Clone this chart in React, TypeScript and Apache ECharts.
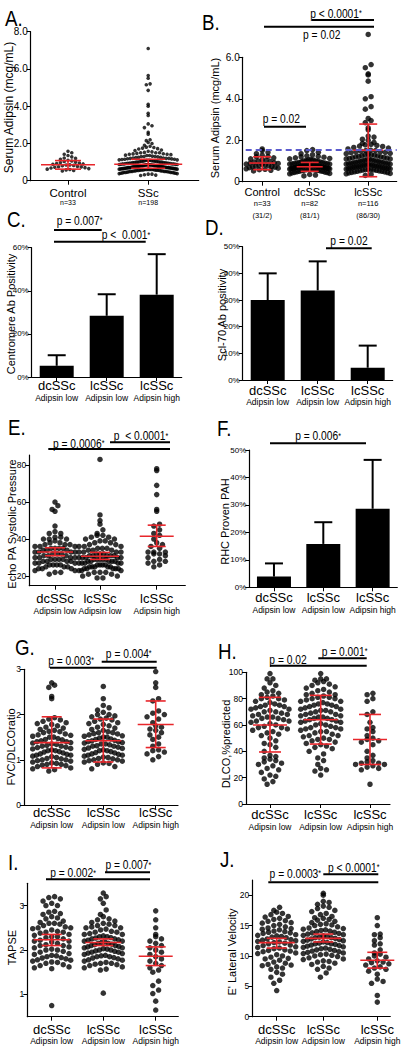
import React, { useEffect, useRef } from "react";
import * as echarts from "echarts";

const SANS = "'Liberation Sans', Arial, sans-serif";
const RED = "#e8262b";
const BLUE = "#5a5acd";

// ---------------- data ----------------
// Serum adipsin (mcg/mL)
const adipsinControl = [0.52, 0.55, 0.58, 0.6, 0.62, 0.65, 0.68, 0.7, 0.72, 0.74, 0.75, 0.77, 0.8, 0.82, 0.84, 0.85, 0.88, 0.9, 0.92, 0.95, 0.98, 1.0, 1.03, 1.06, 1.1, 1.15, 1.2, 1.22, 1.28, 1.35, 1.42, 1.5, 1.58];
const adipsinDcSSc = [0.28, 0.32, 0.35, 0.38, 0.4, 0.42, 0.44, 0.45, 0.46, 0.48, 0.5, 0.5, 0.52, 0.53, 0.55, 0.55, 0.56, 0.58, 0.58, 0.6, 0.6, 0.61, 0.62, 0.63, 0.64, 0.65, 0.65, 0.66, 0.67, 0.68, 0.68, 0.69, 0.7, 0.7, 0.71, 0.72, 0.72, 0.73, 0.74, 0.75, 0.75, 0.76, 0.77, 0.78, 0.78, 0.79, 0.8, 0.8, 0.81, 0.82, 0.83, 0.84, 0.85, 0.85, 0.86, 0.87, 0.88, 0.9, 0.9, 0.92, 0.93, 0.95, 0.96, 0.98, 1.0, 1.0, 1.02, 1.05, 1.05, 1.08, 1.1, 1.12, 1.15, 1.18, 1.2, 1.22, 1.25, 1.3, 1.35, 1.42, 1.5, 1.55];
const adipsinLcSSc = [0.3, 0.35, 0.38, 0.4, 0.42, 0.44, 0.45, 0.47, 0.48, 0.5, 0.5, 0.52, 0.53, 0.55, 0.56, 0.57, 0.58, 0.6, 0.6, 0.61, 0.62, 0.63, 0.65, 0.65, 0.66, 0.67, 0.68, 0.7, 0.7, 0.71, 0.72, 0.73, 0.75, 0.75, 0.76, 0.77, 0.78, 0.8, 0.8, 0.81, 0.82, 0.83, 0.85, 0.85, 0.86, 0.87, 0.88, 0.9, 0.9, 0.92, 0.93, 0.94, 0.95, 0.97, 0.98, 1.0, 1.0, 1.02, 1.03, 1.05, 1.06, 1.08, 1.1, 1.1, 1.12, 1.14, 1.15, 1.17, 1.2, 1.2, 1.22, 1.24, 1.25, 1.28, 1.3, 1.3, 1.32, 1.35, 1.37, 1.4, 1.42, 1.44, 1.45, 1.47, 1.5, 1.5, 1.52,
  1.58, 1.62, 1.65, 1.7, 1.72, 1.75, 1.78, 1.8, 1.85, 1.9, 2.0, 2.05, 2.15, 2.2, 2.5, 2.6, 2.85, 2.95, 3.05, 3.5, 3.62, 4.0, 4.1, 4.85, 5.15, 5.2, 5.5, 5.65, 7.1];
const adipsinSSc = adipsinDcSSc.concat(adipsinLcSSc);
const adipsinCutoff = 1.53;
const adipsinAStats = [[0.62, 0.86, 1.08], [0.67, 0.88, 1.15]]; // [low, centre, high]
const adipsinBStats = [[0.58, 0.9, 1.2], [0.5, 0.72, 0.93], [0.24, 1.52, 2.78]];

// groups
const groupNames = ["dcSSc", "lcSSc", "lcSSc"];
const groupSubs = ["Adipsin low", "Adipsin low", "Adipsin high"];
const groupKeys = ["dcSSc Adipsin low", "lcSSc Adipsin low", "lcSSc Adipsin high"];
const adipsinANames = ["Control", "SSc"];
const adipsinASubs = ["n=33", "n=198"];
const adipsinBNames = ["Control", "dcSSc", "lcSSc"];
const adipsinBSubs = ["n=33\n(31/2)", "n=82\n(81/1)", "n=116\n(86/30)"];

// bar panels (%)
const centromerePct = [5.2, 28.4, 38.2];
const centromereErr = [10.1, 38.4, 57.0];
const scl70Pct = [30.0, 33.6, 4.6];
const scl70Err = [40.0, 44.5, 12.9];
const rhcPahPct = [3.9, 15.8, 28.6];
const rhcPahErr = [8.7, 23.7, 46.4];

// Echo PA systolic pressure
const echoDc = [21, 22, 22, 23, 23, 24, 24, 24, 25, 25, 25, 26, 26, 26, 26, 27, 27, 27, 28, 28, 28, 28, 29, 29, 29, 29, 30, 30, 30, 30, 31, 31, 31, 32, 32, 32, 33, 33, 33, 33, 34, 34, 34, 35, 35, 35, 35, 36, 36, 36, 37, 37, 37, 38, 38, 39, 40, 40, 40, 41, 41, 43, 43, 44, 47, 55, 56, 58, 60];
const echoLc = [19, 19, 20, 20, 21, 21, 22, 22, 22, 23, 23, 23, 24, 24, 24, 24, 24, 25, 25, 25, 25, 25, 26, 26, 26, 26, 27, 27, 27, 27, 27, 28, 28, 28, 28, 28, 29, 29, 29, 29, 29, 30, 30, 30, 30, 30, 31, 31, 31, 31, 31, 32, 32, 32, 33, 33, 33, 33, 34, 34, 34, 35, 35, 35, 36, 36, 36, 37, 37, 38, 38, 39, 39, 40, 40, 41, 41, 42, 42, 43, 45, 48, 50, 53, 83];
const echoHi = [25, 26, 27, 28, 28, 29, 30, 31, 32, 32, 33, 33, 33, 35, 36, 37, 38, 40, 42, 43, 45, 47, 48, 55, 56, 64, 69, 77, 78];
const echoStats = [[31, 33, 35.3], [29, 30.7, 32.8], [36, 41.5, 47.5]];

// FVC/DLCO ratio
const fvcDc = [0.75, 0.78, 0.8, 0.82, 0.85, 0.87, 0.88, 0.9, 0.9, 0.92, 0.93, 0.95, 0.97, 0.98, 1.0, 1.0, 1.02, 1.03, 1.05, 1.07, 1.08, 1.1, 1.1, 1.12, 1.13, 1.15, 1.17, 1.18, 1.2, 1.2, 1.22, 1.24, 1.25, 1.27, 1.28, 1.3, 1.3, 1.32, 1.34, 1.35, 1.37, 1.38, 1.4, 1.4, 1.42, 1.44, 1.45, 1.47, 1.5, 1.5, 1.52, 1.54, 1.55, 1.57, 1.6, 1.62, 1.63, 1.65, 1.67, 1.7, 1.72, 1.75, 1.78, 1.8, 1.82, 1.85, 1.88, 1.9, 1.93, 2.35, 2.4, 2.6, 2.65, 2.7];
const fvcLc = [0.8, 0.85, 0.9, 0.92, 0.93, 0.95, 0.97, 0.98, 1.0, 1.0, 1.02, 1.03, 1.05, 1.06, 1.08, 1.1, 1.1, 1.12, 1.13, 1.15, 1.16, 1.18, 1.2, 1.2, 1.22, 1.23, 1.25, 1.26, 1.28, 1.3, 1.3, 1.31, 1.33, 1.35, 1.35, 1.37, 1.38, 1.4, 1.4, 1.42, 1.43, 1.45, 1.46, 1.48, 1.5, 1.5, 1.52, 1.53, 1.55, 1.57, 1.58, 1.6, 1.6, 1.62, 1.65, 1.67, 1.7, 1.72, 1.75, 1.78, 1.8, 1.82, 1.85, 1.88, 1.9, 1.92, 1.95, 1.97, 2.0, 2.0, 2.05, 2.1, 2.15, 2.2, 2.35, 2.62];
const fvcHi = [1.0, 1.07, 1.13, 1.17, 1.2, 1.22, 1.3, 1.35, 1.45, 1.5, 1.55, 1.6, 1.65, 1.68, 1.72, 1.75, 1.82, 1.9, 1.95, 2.0, 2.03, 2.08, 2.3, 2.35, 2.6, 2.7, 2.95];
const fvcStats = [[0.82, 1.38, 1.95], [0.95, 1.42, 1.9], [1.27, 1.78, 2.3]];

// DLCO % predicted
const dlcoDc = [15, 17, 19, 21, 22, 24, 26, 27, 29, 30, 31, 32, 33, 34, 35, 36, 37, 40, 43, 45, 46, 48, 50, 52, 53, 54, 55, 56, 57, 58, 58, 59, 60, 61, 62, 63, 63, 64, 65, 65, 66, 66, 67, 68, 68, 69, 70, 70, 71, 72, 72, 73, 74, 74, 75, 75, 76, 77, 78, 79, 80, 80, 81, 82, 83, 84, 85, 86, 88, 90, 92, 95, 95, 99];
const dlcoLc = [22, 25, 26, 27, 30, 33, 35, 38, 40, 42, 43, 44, 45, 46, 47, 48, 49, 49, 50, 51, 52, 52, 53, 54, 55, 55, 56, 57, 57, 58, 58, 59, 60, 60, 61, 62, 62, 63, 63, 64, 64, 65, 65, 66, 66, 67, 67, 68, 68, 69, 70, 70, 71, 71, 72, 72, 73, 74, 74, 75, 75, 76, 76, 77, 78, 78, 79, 80, 80, 81, 81, 82, 83, 83, 84, 85, 86, 87, 88, 89, 90, 91, 92, 93, 94, 95, 95, 99];
const dlcoHi = [15, 26, 27, 28, 29, 30, 30, 31, 31, 32, 33, 35, 37, 40, 45, 47, 48, 49, 50, 52, 55, 57, 58, 62, 68, 70, 78, 80, 83, 84];
const dlcoStats = [[39.5, 60, 81], [45.5, 64, 82.5], [30, 49, 68]];

// TAPSE
const tapseDc = [0.75, 1.58, 1.6, 1.62, 1.65, 1.67, 1.7, 1.72, 1.73, 1.75, 1.77, 1.78, 1.8, 1.82, 1.83, 1.85, 1.87, 1.88, 1.9, 1.92, 1.95, 1.97, 2.0, 2.0, 2.02, 2.05, 2.07, 2.1, 2.1, 2.12, 2.15, 2.18, 2.2, 2.2, 2.22, 2.25, 2.28, 2.3, 2.3, 2.33, 2.35, 2.38, 2.4, 2.4, 2.42, 2.45, 2.48, 2.5, 2.5, 2.52, 2.55, 2.58, 2.6, 2.6, 2.62, 2.65, 2.7, 2.72, 2.75, 2.8, 2.82, 2.85, 2.87, 3.0, 3.0, 3.05, 3.1, 3.15, 3.18, 3.2];
const tapseLc = [1.03, 1.55, 1.57, 1.6, 1.62, 1.65, 1.67, 1.68, 1.7, 1.7, 1.72, 1.75, 1.77, 1.78, 1.8, 1.82, 1.83, 1.85, 1.85, 1.87, 1.88, 1.9, 1.92, 1.93, 1.95, 1.95, 1.97, 1.98, 2.0, 2.0, 2.02, 2.03, 2.05, 2.05, 2.07, 2.08, 2.1, 2.1, 2.12, 2.13, 2.15, 2.15, 2.17, 2.18, 2.2, 2.2, 2.22, 2.23, 2.25, 2.25, 2.27, 2.28, 2.3, 2.3, 2.32, 2.35, 2.35, 2.37, 2.4, 2.4, 2.42, 2.45, 2.47, 2.5, 2.5, 2.52, 2.55, 2.55, 2.58, 2.6, 2.62, 2.65, 2.68, 2.7, 2.75, 2.8, 2.9, 3.05, 3.15, 3.2, 3.28];
const tapseHi = [0.65, 0.85, 1.02, 1.1, 1.2, 1.3, 1.5, 1.55, 1.6, 1.65, 1.7, 1.75, 1.8, 1.85, 1.9, 1.95, 2.0, 2.05, 2.1, 2.15, 2.2, 2.25, 2.3, 2.35, 2.5, 2.68, 2.88];
const tapseStats = [[2.1, 2.23, 2.35], [2.1, 2.17, 2.25], [1.65, 1.86, 2.07]];

// E' lateral velocity
const eLatDc = [4.3, 5.5, 6.0, 6.5, 7.0, 7.3, 7.8, 8.0, 8.2, 8.4, 8.5, 8.6, 8.8, 9.0, 9.3, 9.5, 9.6, 9.8, 10.0, 10.2, 10.4, 10.5, 10.7, 10.8, 10.9, 11.0, 11.2, 11.3, 11.4, 11.5, 11.7, 11.8, 12.0, 12.1, 12.2, 12.3, 12.4, 12.5, 12.6, 12.7, 12.8, 13.0, 13.1, 13.2, 13.3, 13.4, 13.5, 13.7, 13.8, 13.9, 14.0, 14.1, 14.3, 14.4, 14.5, 14.6, 14.8, 15.0, 15.2, 15.4, 15.5, 15.7, 15.8, 16.0, 16.2, 16.4, 16.5, 16.8, 17.0, 17.2, 17.5, 18.0];
const eLatLc = [6.5, 7.2, 7.8, 8.0, 8.3, 8.6, 8.8, 9.0, 9.1, 9.2, 9.4, 9.5, 9.7, 9.9, 10.0, 10.1, 10.2, 10.3, 10.4, 10.5, 10.6, 10.7, 10.8, 10.9, 11.0, 11.1, 11.2, 11.3, 11.4, 11.5, 11.6, 11.7, 11.8, 11.9, 12.0, 12.0, 12.1, 12.2, 12.3, 12.4, 12.5, 12.6, 12.7, 12.8, 12.9, 13.0, 13.0, 13.1, 13.2, 13.3, 13.4, 13.5, 13.6, 13.7, 13.8, 13.9, 14.0, 14.1, 14.2, 14.3, 14.4, 14.5, 14.6, 14.8, 15.0, 15.1, 15.2, 15.3, 15.5, 15.7, 15.9, 16.0, 16.2, 16.3, 16.5, 16.8, 17.0, 17.3, 17.5, 17.8, 18.0, 18.2, 18.5, 18.8, 19.0, 20.0, 20.3];
const eLatHi = [2.4, 3.5, 5.5, 5.8, 6.2, 7.0, 7.5, 7.8, 8.0, 8.2, 8.5, 8.7, 8.9, 9.0, 9.2, 9.5, 9.8, 10.0, 10.3, 10.5, 11.0, 11.8, 12.0, 12.5, 13.0, 13.5, 13.6, 15.0, 16.3];
const eLatStats = [[11.3, 12.2, 12.9], [12.3, 12.9, 13.6], [8.0, 9.3, 10.6]];

// tick labels
const ticksA = [0, 2, 4, 6, 8];
const ticksB = [0, 2, 4, 6];
const ticksEcho = [20, 40, 60, 80];
const ticksFvc = [0, 1, 2, 3];
const ticksDlco = [0, 20, 40, 60, 80, 100];
const ticksTapse = [1, 2, 3];
const ticksELat = [0, 5, 10, 15, 20];

// ---------------- layout ----------------
const fmt1 = (v: number) => (v === 0 ? "0" : v.toFixed(1));
const fmtInt = (v: number) => String(v);

type SP = {
  grid: number[]; yMin: number; yMax: number; ticks: number[]; fmt: (v: number) => string; tickFont: number;
  catX: number[]; groups: number[][]; stats: number[][]; names: string[]; subs: string[];
  nameFont: number; subFont: number; subLH: number; m1: number; m2: number;
  diam: number; binH: number; maxHalf: number[]; meanHalf: number[]; capHalf: number[];
  cutoff?: number;
};

const scatterPanels: SP[] = [
  { // A
    grid: [30.7, 31.7, 168, 149], yMin: 0, yMax: 8, ticks: ticksA, fmt: fmt1, tickFont: 10,
    catX: [37.3, 117.5], groups: [adipsinControl, adipsinSSc], stats: adipsinAStats,
    names: adipsinANames, subs: adipsinASubs, nameFont: 11.5, subFont: 7, subLH: 8, m1: 6, m2: 18,
    diam: 3.6, binH: 4.6, maxHalf: [24, 29], meanHalf: [27, 34], capHalf: [13, 17],
  },
  { // B
    grid: [242.7, 57.3, 154, 124.4], yMin: 0, yMax: 6, ticks: ticksB, fmt: fmt1, tickFont: 10,
    catX: [19.5, 67, 125.5], groups: [adipsinControl, adipsinDcSSc, adipsinLcSSc], stats: adipsinBStats,
    names: adipsinBNames, subs: adipsinBSubs, nameFont: 11, subFont: 7.5, subLH: 12, m1: 4.6, m2: 16,
    diam: 5.5, binH: 5, maxHalf: [16, 20, 22], meanHalf: [13, 13, 15], capHalf: [9, 9, 9], cutoff: adipsinCutoff,
  },
  { // E
    grid: [29.3, 455, 156, 130.7], yMin: 14.8, yMax: 85.4, ticks: ticksEcho, fmt: fmtInt, tickFont: 8.5,
    catX: [25.7, 70.7, 127.4], groups: [echoDc, echoLc, echoHi], stats: echoStats,
    names: groupNames, subs: groupSubs, nameFont: 13, subFont: 8.5, subLH: 9, m1: 6.5, m2: 20.5,
    diam: 5.5, binH: 6, maxHalf: [20, 21, 18], meanHalf: [18, 19, 17], capHalf: [10, 10, 9],
  },
  { // G
    grid: [24, 669.3, 154, 135.7], yMin: 0, yMax: 3, ticks: ticksFvc, fmt: fmtInt, tickFont: 8.5,
    catX: [27.7, 79.3, 131.7], groups: [fvcDc, fvcLc, fvcHi], stats: fvcStats,
    names: groupNames, subs: groupSubs, nameFont: 13, subFont: 8.5, subLH: 9, m1: 1, m2: 15,
    diam: 5.5, binH: 6.5, maxHalf: [19, 19, 18], meanHalf: [18, 18, 18], capHalf: [10, 10, 10],
  },
  { // H
    grid: [246, 672.3, 144, 131.7], yMin: 0, yMax: 100, ticks: ticksDlco, fmt: fmtInt, tickFont: 8.5,
    catX: [24, 74.7, 124], groups: [dlcoDc, dlcoLc, dlcoHi], stats: dlcoStats,
    names: groupNames, subs: groupSubs, nameFont: 13, subFont: 8.5, subLH: 9, m1: 4, m2: 18,
    diam: 5.5, binH: 7, maxHalf: [19, 20, 18], meanHalf: [17, 17, 17], capHalf: [11, 11, 11],
  },
  { // I
    grid: [27.3, 883.3, 151, 133.4], yMin: 0.5, yMax: 3.5, ticks: ticksTapse, fmt: fmtInt, tickFont: 8.5,
    catX: [24.4, 76, 128.4], groups: [tapseDc, tapseLc, tapseHi], stats: tapseStats,
    names: groupNames, subs: groupSubs, nameFont: 13, subFont: 8.5, subLH: 9, m1: 6, m2: 20,
    diam: 5.5, binH: 6.5, maxHalf: [19, 19, 18], meanHalf: [18, 18, 17], capHalf: [10, 10, 10],
  },
  { // J
    grid: [252.3, 880, 138, 136.7], yMin: 0, yMax: 22.5, ticks: ticksELat, fmt: fmtInt, tickFont: 8.5,
    catX: [24.4, 71, 125], groups: [eLatDc, eLatLc, eLatHi], stats: eLatStats,
    names: groupNames, subs: groupSubs, nameFont: 13, subFont: 8.5, subLH: 9, m1: 6, m2: 20,
    diam: 5.5, binH: 6, maxHalf: [19, 20, 18], meanHalf: [18, 18, 17], capHalf: [10, 10, 10],
  },
];

type BP = { grid: number[]; max: number; interval: number; vals: number[]; errs: number[]; m1: number; m2: number };
const barPanels: BP[] = [
  { grid: [31.7, 247.7, 150, 129.3], max: 60, interval: 20, vals: centromerePct, errs: centromereErr, m1: 2, m2: 16 }, // C
  { grid: [242.7, 246.7, 150, 133.3], max: 50, interval: 10, vals: scl70Pct, errs: scl70Err, m1: 3.8, m2: 17.8 }, // D
  { grid: [249.3, 450, 148, 137.3], max: 50, interval: 10, vals: rhcPahPct, errs: rhcPahErr, m1: 4, m2: 18 }, // F
];

const panelLetters: [string, number, number][] = [
  ["A.", 5, 18.5], ["B.", 202, 22.5], ["C.", 7, 219.5], ["D.", 205, 227.5], ["E.", 8, 427.5],
  ["F.", 217, 428.5], ["G.", 15, 647.5], ["H.", 218, 651], ["I.", 8, 862.5], ["J.", 220, 859],
];
const yTitles: [string, number, number, number][] = [
  ["Serum Adipsin (mcg/mL)", 9, 107.5, 12], ["Serum Adipsin (mcg/mL)", 215, 118, 11],
  ["Centromere Ab Positivity", 11, 314, 11], ["Scl-70 Ab positivity", 221.5, 315, 11],
  ["Echo PA Systolic Pressure", 11.5, 524, 11], ["RHC Proven PAH", 225, 521.5, 11],
  ["FVC/DLCOratio", 10.5, 747, 11], ["DLCO,%predicted", 225.5, 744, 11],
  ["TAPSE", 11.5, 947.5, 11], ["E' Lateral Velocity", 231.5, 952, 11],
];
// significance brackets: [x1, x2, y]
const sigLines: number[][] = [
  [311.7, 374, 20], [264, 374, 26.7], [264, 306, 126.7],
  [54, 101.7, 230], [54, 145.7, 241.7],
  [326, 371.7, 248.3],
  [110, 170, 442.3], [48.3, 170, 449],
  [270, 366, 443.3],
  [101.7, 156.7, 661.7], [50, 156.7, 667.7],
  [318.3, 366.7, 658.3], [270, 366.7, 665.7],
  [105, 150, 872.3], [46, 150, 879.3],
  [323.3, 378.3, 874.3], [268.3, 378.3, 882.3],
];
const sigTexts: [string, number, number, boolean][] = [
  ["p < 0.0001", 334, 13.3, true], ["p = 0.02", 321.7, 34.3, false], ["p = 0.02", 281.3, 119, false],
  ["p = 0.007", 77.5, 220.7, true], ["p <  0.001", 124, 235, true],
  ["p = 0.02", 349, 240.7, false],
  ["p = 0.0006", 76.7, 443.3, true], ["p  < 0.0001", 139, 436, true],
  ["p = 0.006", 316, 436, true],
  ["p = 0.003", 69, 660.2, true], ["p = 0.004", 126.7, 653.3, true],
  ["p = 0.02", 288, 659.3, false], ["p = 0.001", 342.5, 651.7, true],
  ["p = 0.002", 71, 872.8, true], ["p = 0.007", 126.3, 865, true],
  ["p = 0.0003", 293.3, 873.3, true], ["p < 0.0001", 351.7, 867.3, true],
];

// beeswarm-style row layout (GraphPad look): offsets in px from category centre
function swarm(vals: number[], pxPerY: number, yMin: number, binH: number, diam: number, maxHalf: number): number[][] {
  const rows = new Map<number, number[]>();
  vals.forEach((v) => {
    const r = Math.round(((v - yMin) * pxPerY) / binH);
    if (!rows.has(r)) rows.set(r, []);
    rows.get(r)!.push(v);
  });
  const out: number[][] = [];
  rows.forEach((list) => {
    list.sort((a, b) => a - b);
    const n = list.length;
    const sp = n > 1 ? Math.min(diam * 1.05, (2 * maxHalf) / (n - 1)) : 0;
    const order: number[] = [];
    let l = 0, r = n - 1;
    while (l <= r) { order.push(l++); if (l <= r) order.push(r--); }
    list.forEach((v, k) => out.push([(order[k] - (n - 1) / 2) * sp, v]));
  });
  return out;
}

const axisLineStyle = { color: "#000", width: 1.2 };

function buildOption() {
  const grid: any[] = [], xAxis: any[] = [], yAxis: any[] = [], series: any[] = [], graphic: any[] = [];

  const nearest = (arr: number[], v: number) => {
    let best = 0;
    arr.forEach((c, i) => { if (Math.abs(c - v) < Math.abs(arr[best] - v)) best = i; });
    return best;
  };

  scatterPanels.forEach((p) => {
    const gi = grid.length;
    const [left, top, width, height] = p.grid;
    grid.push({ left, top, width, height, containLabel: false });
    const xi = xAxis.length;
    const baseX = { gridIndex: gi, type: "value", position: "bottom", offset: 0, min: 0, max: width, splitLine: { show: false } };
    xAxis.push({
      ...baseX,
      axisLine: { show: true, onZero: false, lineStyle: axisLineStyle },
      axisTick: { show: true, length: 4, customValues: p.catX, lineStyle: { color: "#000" } },
      axisLabel: {
        customValues: p.catX, margin: p.m1, showMinLabel: true, showMaxLabel: true,
        fontFamily: SANS, fontSize: p.nameFont, color: "#000",
        formatter: (v: number) => p.names[nearest(p.catX, v)],
      },
    });
    xAxis.push({
      ...baseX,
      axisLine: { show: false, onZero: false }, axisTick: { show: false },
      axisLabel: {
        customValues: p.catX, margin: p.m2, showMinLabel: true, showMaxLabel: true,
        fontFamily: SANS, fontSize: p.subFont, lineHeight: p.subLH, color: "#000",
        formatter: (v: number) => p.subs[nearest(p.catX, v)],
      },
    });
    yAxis.push({
      gridIndex: gi, type: "value", min: p.yMin, max: p.yMax,
      axisLine: { show: true, onZero: false, lineStyle: axisLineStyle },
      axisTick: { show: true, length: 4, customValues: p.ticks, lineStyle: { color: "#000" } },
      axisLabel: { customValues: p.ticks, formatter: p.fmt, fontSize: p.tickFont, fontFamily: SANS, color: "#000", margin: 3, showMinLabel: true, showMaxLabel: true },
      splitLine: { show: false },
    });
    const pxPerY = height / (p.yMax - p.yMin);
    const pts: number[][] = [];
    p.groups.forEach((g, i) => {
      swarm(g, pxPerY, p.yMin, p.binH, p.diam, p.maxHalf[i]).forEach(([o, v]) => pts.push([p.catX[i] + o, v]));
    });
    series.push({
      type: "scatter", xAxisIndex: xi, yAxisIndex: gi, data: pts, symbolSize: p.diam,
      itemStyle: { color: "#000" }, clip: false, silent: true, z: 2,
    });
    series.push({
      type: "custom", xAxisIndex: xi, yAxisIndex: gi, clip: false, silent: true, z: 5,
      data: p.stats.map((s, i) => [p.catX[i], s[0], s[1], s[2], i]),
      encode: { x: 0, y: [1, 2, 3] },
      renderItem: (_params: any, api: any) => {
        const x = api.value(0);
        const i = api.value(4);
        const lo = api.coord([x, api.value(1)]);
        const m = api.coord([x, api.value(2)]);
        const hi = api.coord([x, api.value(3)]);
        const st = { stroke: RED, lineWidth: 1.6 };
        const ch = p.capHalf[i], mh = p.meanHalf[i];
        return {
          type: "group",
          children: [
            { type: "line", shape: { x1: lo[0], y1: lo[1], x2: hi[0], y2: hi[1] }, style: st },
            { type: "line", shape: { x1: lo[0] - ch, y1: lo[1], x2: lo[0] + ch, y2: lo[1] }, style: st },
            { type: "line", shape: { x1: hi[0] - ch, y1: hi[1], x2: hi[0] + ch, y2: hi[1] }, style: st },
            { type: "line", shape: { x1: m[0] - mh, y1: m[1], x2: m[0] + mh, y2: m[1] }, style: st },
          ],
        };
      },
    });
    if (p.cutoff !== undefined) {
      series.push({
        type: "line", xAxisIndex: xi, yAxisIndex: gi, symbol: "none", silent: true, z: 6,
        data: [[3, p.cutoff], [width, p.cutoff]],
        lineStyle: { color: BLUE, width: 2, type: [6, 4] },
      });
    }
  });

  barPanels.forEach((p) => {
    const gi = grid.length;
    const [left, top, width, height] = p.grid;
    grid.push({ left, top, width, height, containLabel: false });
    const xi = xAxis.length;
    xAxis.push({
      gridIndex: gi, type: "category", data: groupKeys, position: "bottom", offset: 0,
      axisLine: { show: true, onZero: false, lineStyle: axisLineStyle },
      axisTick: { show: true, length: 4, alignWithLabel: true, lineStyle: { color: "#000" } },
      axisLabel: { margin: p.m1, interval: 0, fontFamily: SANS, fontSize: 13, color: "#000", formatter: (_v: string, idx: number) => groupNames[idx] },
      splitLine: { show: false },
    });
    xAxis.push({
      gridIndex: gi, type: "category", data: groupKeys, position: "bottom", offset: 0,
      axisLine: { show: false, onZero: false }, axisTick: { show: false },
      axisLabel: { margin: p.m2, interval: 0, fontFamily: SANS, fontSize: 8.5, color: "#000", formatter: (_v: string, idx: number) => groupSubs[idx] },
      splitLine: { show: false },
    });
    yAxis.push({
      gridIndex: gi, type: "value", min: 0, max: p.max, interval: p.interval,
      axisLine: { show: true, onZero: false, lineStyle: axisLineStyle },
      axisTick: { show: true, length: 4, lineStyle: { color: "#000" } },
      axisLabel: { fontSize: 8, fontFamily: SANS, color: "#000", margin: 3, formatter: "{value}%" },
      splitLine: { show: false },
    });
    series.push({
      type: "bar", xAxisIndex: xi, yAxisIndex: gi, data: p.vals, barWidth: 34,
      itemStyle: { color: "#000" }, silent: true,
    });
    series.push({
      type: "custom", xAxisIndex: xi, yAxisIndex: gi, clip: false, silent: true, z: 5,
      data: p.vals.map((v, i) => [i, v, p.errs[i]]),
      encode: { x: 0, y: [1, 2] },
      renderItem: (_params: any, api: any) => {
        const base = api.coord([api.value(0), api.value(1)]);
        const top2 = api.coord([api.value(0), api.value(2)]);
        const st = { stroke: "#000", lineWidth: 2 };
        return {
          type: "group",
          children: [
            { type: "line", shape: { x1: base[0], y1: base[1], x2: top2[0], y2: top2[1] }, style: st },
            { type: "line", shape: { x1: top2[0] - 9, y1: top2[1], x2: top2[0] + 9, y2: top2[1] }, style: st },
          ],
        };
      },
    });
  });

  panelLetters.forEach(([t, x, y]) => {
    graphic.push({ type: "text", x, y, scaleX: 0.85, style: { text: t, font: `22px ${SANS}`, fill: "#000", align: "left", verticalAlign: "middle" } });
  });
  yTitles.forEach(([t, x, y, fs]) => {
    graphic.push({ type: "text", x, y, rotation: Math.PI / 2, style: { text: t, font: `${fs}px ${SANS}`, fill: "#000", align: "center", verticalAlign: "middle" } });
  });
  sigLines.forEach(([x1, x2, y]) => {
    graphic.push({ type: "line", shape: { x1, y1: y, x2, y2: y }, style: { stroke: "#000", lineWidth: 2 } });
  });
  sigTexts.forEach(([t, x, y, star]) => {
    graphic.push({
      type: "text", x: star ? x + 2 : x, y, scaleX: 0.82,
      style: {
        text: star ? `{t|${t}}{s|*}` : `{t|${t}}`,
        rich: {
          t: { fontFamily: SANS, fontSize: 12.5, fill: "#000" },
          s: { fontFamily: SANS, fontSize: 8.5, fill: "#000" },
        },
        align: "center", verticalAlign: "middle",
      },
    });
  });

  return { animation: false, backgroundColor: "#fff", grid, xAxis, yAxis, series, graphic };
}

export default function App() {
  const ref = useRef<HTMLDivElement>(null);
  useEffect(() => {
    if (!ref.current) return;
    const chart = echarts.init(ref.current, undefined, { renderer: "svg" });
    chart.setOption(buildOption() as any);
    return () => chart.dispose();
  }, []);
  return <div ref={ref} style={{ position: "absolute", left: 0, top: 0, width: 409, height: 1050, background: "#fff" }} />;
}
